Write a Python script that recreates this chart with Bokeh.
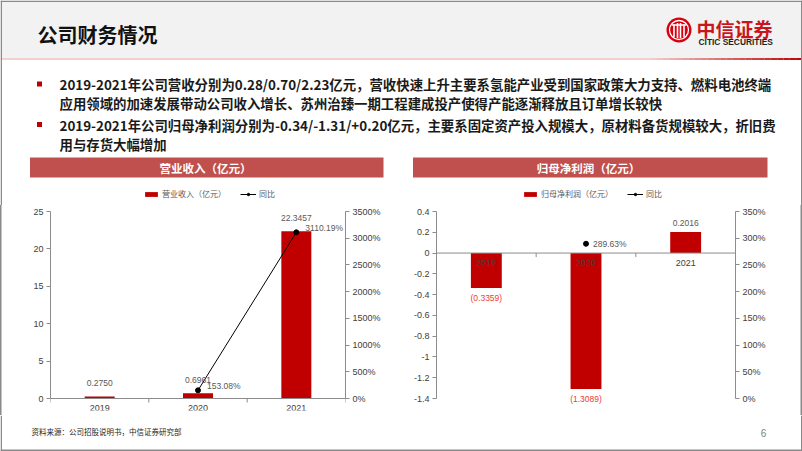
import numpy as np
from bokeh.plotting import figure
from bokeh.models import (Range1d, LinearAxis, FixedTicker,
                          PrintfTickFormatter, CustomJSTickFormatter, Legend, LegendItem,
                          ColumnDataSource, LabelSet, Span)
from bokeh.layouts import column, row
from bokeh.core.properties import value
from bokeh.embed import file_html
from bokeh.resources import INLINE

# ---------------- data ----------------
years = ["2019", "2020", "2021"]
revenue = [0.2750, 0.6961, 22.3457]                 # 营业收入（亿元）
revenue_yoy = [np.nan, 153.08, 3110.19]             # 同比 (%)
net_profit = [-0.3359, -1.3089, 0.2016]             # 归母净利润（亿元）
net_profit_yoy = [np.nan, 289.63, np.nan]           # 同比 (%)

rev_ticks = [0, 5, 10, 15, 20, 25]
rev_pct_ticks = [0, 500, 1000, 1500, 2000, 2500, 3000, 3500]
np_ticks = [-1.4, -1.2, -1.0, -0.8, -0.6, -0.4, -0.2, 0.0, 0.2, 0.4]
np_pct_ticks = [0, 50, 100, 150, 200, 250, 300, 350]

page_title = "公司财务情况"
bullet_lines = [
    "2019-2021年公司营收分别为0.28/0.70/2.23亿元，营收快速上升主要系氢能产业受到国家政策大力支持、燃料电池终端",
    "应用领域的加速发展带动公司收入增长、苏州治臻一期工程建成投产使得产能逐渐释放且订单增长较快",
    "2019-2021年公司归母净利润分别为-0.34/-1.31/+0.20亿元，主要系固定资产投入规模大，原材料备货规模较大，折旧费",
    "用与存货大幅增加",
]
chart_titles = ["营业收入（亿元）", "归母净利润（亿元）"]
yoy_label = "同比"
source_note = "资料来源：公司招股说明书，中信证券研究部"
page_no = "6"
brand_cn = "中信证券"
brand_en = "CITIC SECURITIES"

# category slots: each year occupies one unit, bars at the slot centres
slot_centres = [i + 0.5 for i in range(len(years))]
slot_edges = list(range(len(years) + 1))

# ---------------- style ----------------
CJK = "Noto Sans CJK SC"
LAT = "Liberation Sans"
BAR = "#c00000"
BAND = "#c0504d"
AX = "#8c8c8c"
TXT = "#404040"
GRAY = "#595959"
EDGE = "#8a8a8a"

AXIS_PX = 187      # height of the value axes
EXTRA_PX = 12      # free room below the axes for labels
TICK_PX = 4


def bare(width, height, x0, x1, y0, y1):
    p = figure(width=width, height=height, x_range=Range1d(x0, x1), y_range=Range1d(y1, y0),
               x_axis_location=None, y_axis_location=None, min_border=0,
               output_backend="svg", toolbar_location=None)
    p.outline_line_color = None
    p.grid.visible = False
    return p


# ---------------- top part (header, bullets, chart title bands, legends) ----------------
top = bare(802, 205, 0, 802, 0, 205)
top.quad(left=[0], right=[802], top=[0], bottom=[57.5], fill_color="#f2f2f2", line_color=None)
top.segment(x0=[0], y0=[58.5], x1=[802], y1=[58.5], line_color="#f4cfcf", line_width=2)
n = 24
xs = np.linspace(650, 802, n + 1)
c0 = np.array([0xf4, 0xcf, 0xcf]); c1 = np.array([0xc0, 0x00, 0x00])
cols = []
for i in range(n):
    t = (i + 0.5) / n
    c = (c0 + (c1 - c0) * t).astype(int)
    cols.append("#%02x%02x%02x" % tuple(c))
top.segment(x0=xs[:-1], y0=[58.5] * n, x1=xs[1:], y1=[58.5] * n, line_color=cols, line_width=2)
# slide frame
top.segment(x0=[0, 0.75, 801.25], y0=[0.75, 0, 0], x1=[802, 0.75, 801.25], y1=[0.75, 205, 205],
            line_color=EDGE, line_width=1.5)

top.text(x=[37], y=[33.5], text=[page_title], text_font=value(CJK), text_font_style="bold",
         text_font_size="20px", text_color="#111111", text_baseline="middle")

# logo
top.circle(x=[678.5], y=[29.5], radius=12.5, fill_color="#d7000f", line_color=None)
top.circle(x=[678.5], y=[29.5], radius=9.5, fill_color=None, line_color="white", line_width=1.3)
top.segment(x0=[673.5, 677, 680, 683.5], y0=[24, 22.5, 22.5, 24], x1=[673.5, 677, 680, 683.5],
            y1=[36.5, 37.5, 37.5, 36.5], line_color="white", line_width=1.6)
top.segment(x0=[671.5], y0=[24.5], x1=[685.5], y1=[24.5], line_color="white", line_width=1.3)
top.text(x=[696], y=[28], text=[brand_cn], text_font=value(CJK), text_font_style="bold",
         text_font_size="19px", text_color="#c8161d", text_baseline="middle")
top.text(x=[698], y=[41.5], text=[brand_en], text_font=value(LAT), text_font_style="bold",
         text_font_size="8.4px", text_color="#231f20", text_baseline="middle")

# bullets
line_y = [83.5, 102.5, 124, 143]
top.scatter(x=[39, 39], y=[line_y[0], line_y[2]], marker="square", size=5,
            fill_color=BAR, line_color=None)
top.text(x=[59] * 4, y=line_y, text=bullet_lines, text_font=value(CJK), text_font_style="bold",
         text_font_size="13.4px", text_color="#1a1a1a", text_baseline="middle")

# chart title bands
top.quad(left=[29.5, 412.5], right=[383, 767], top=[157, 157], bottom=[177, 177],
         fill_color=BAND, line_color=None)
top.text(x=[205, 588], y=[167.5, 167.5], text=chart_titles, text_font=value(CJK), text_font_style="bold",
         text_font_size="11.5px", text_color="white", text_baseline="middle", text_align="center")

# legend keys (same styles as the chart series; no data of their own)
kbar = top.vbar(x=[np.nan], top=[np.nan], width=1, fill_color=BAR, line_color=None)
kline = top.line(x=[np.nan], y=[np.nan], line_color="black", line_width=1)
kpt = top.scatter(x=[np.nan], y=[np.nan], size=5, fill_color="black", line_color="black")
for lab, xloc in ((chart_titles[0], 143), (chart_titles[1], 522)):
    leg = Legend(items=[LegendItem(label=lab, renderers=[kbar]),
                        LegendItem(label=yoy_label, renderers=[kline, kpt])],
                 orientation="horizontal", location=(xloc, 6), glyph_width=16, glyph_height=6,
                 label_height=8, label_text_font_size="8px", label_text_font=CJK,
                 label_text_color=GRAY, label_standoff=3, padding=0, margin=0, spacing=14,
                 border_line_color=None, background_fill_alpha=0, label_text_baseline="middle")
    top.add_layout(leg)


# ---------------- charts ----------------
def style_axis(ax):
    ax.axis_line_color = AX
    ax.major_tick_line_color = AX
    ax.major_tick_out = 4
    ax.major_tick_in = 0
    ax.minor_tick_line_color = None
    ax.major_label_text_font = LAT
    ax.major_label_text_font_size = "9px"
    ax.major_label_text_color = TXT
    ax.major_label_standoff = 3


def chart(ticks, pct_ticks, bl, br, shadow, left_fmt):
    lo, hi = ticks[0], ticks[-1]
    plo, phi = pct_ticks[0], pct_ticks[-1]
    pad = (hi - lo) * EXTRA_PX / AXIS_PX
    ppad = (phi - plo) * EXTRA_PX / AXIS_PX
    p = figure(width=401, height=210, x_range=Range1d(0, len(years)), y_range=Range1d(lo - pad, hi),
               x_axis_location=None, y_axis_location=None,
               min_border_left=bl, min_border_right=br, min_border_top=6,
               min_border_bottom=210 - 6 - AXIS_PX - EXTRA_PX,
               output_backend="svg", toolbar_location=None,
               styles={"box-shadow": shadow})
    p.outline_line_color = None
    p.border_fill_color = None
    p.grid.visible = False
    p.extra_y_ranges = {"pct": Range1d(plo - ppad, phi)}
    ax = LinearAxis(ticker=FixedTicker(ticks=ticks), bounds=(lo, hi))
    if left_fmt is not None:
        ax.formatter = left_fmt
    style_axis(ax); p.add_layout(ax, "left")
    ax = LinearAxis(y_range_name="pct", ticker=FixedTicker(ticks=pct_ticks), bounds=(plo, phi),
                    formatter=PrintfTickFormatter(format="%d%%"))
    style_axis(ax); p.add_layout(ax, "right")
    # category axis along value 0, ticks between categories
    unit = (hi - lo) / AXIS_PX
    p.add_layout(Span(location=0, dimension="width", line_color=AX, line_width=1))
    p.segment(x0=slot_edges, y0=[0] * len(slot_edges), x1=slot_edges,
              y1=[-TICK_PX * unit] * len(slot_edges), line_color=AX, line_width=1)
    return p


def add_series(p, vals, yoy, vl, vc, vo, bar_w, yoy_dx, yoy_dy):
    src = ColumnDataSource(dict(x=slot_centres, yr=years, v=vals, yoy=np.array(yoy, dtype=float),
                                vl=vl, vc=vc, vo=vo,
                                yl=["" if np.isnan(v) else f"{v:.2f}%" for v in yoy]))
    p.vbar(x="x", top="v", width=bar_w, fill_color=BAR, line_color=None, source=src)
    p.line(x="x", y="yoy", y_range_name="pct", line_color="black", line_width=1, source=src)
    p.scatter(x="x", y="yoy", y_range_name="pct", size=5, fill_color="black", line_color="black",
              source=src)
    p.add_layout(LabelSet(x="x", y=0, text="yr", source=src, y_offset=-9.5, text_align="center",
                          text_baseline="middle", text_font_size="9px", text_color=TXT,
                          text_font=value(LAT)))
    p.add_layout(LabelSet(x="x", y="v", text="vl", source=src, y_offset="vo", text_align="center",
                          text_baseline="middle", text_font_size="8.5px", text_color="vc",
                          text_font=value(LAT)))
    p.add_layout(LabelSet(x="x", y="yoy", y_range_name="pct", text="yl", source=src,
                          x_offset=yoy_dx, y_offset=yoy_dy, text_align="left",
                          text_baseline="middle", text_font_size="8.5px", text_color=GRAY,
                          text_font=value(LAT)))


# left chart: revenue
L = chart(rev_ticks, rev_pct_ticks, 50, 56, f"inset 1.5px 0 0 {EDGE}", None)
add_series(L, revenue, revenue_yoy,
           [f"{v:.4f}" for v in revenue], [GRAY] * len(revenue), [13.5] * len(revenue),
           0.305, 9, 4)

# right chart: net profit
R = chart(np_ticks, np_pct_ticks, 35, 67, f"inset -1.5px 0 0 {EDGE}",
          CustomJSTickFormatter(code="return (Math.round(tick*10)/10).toString();"))
add_series(R, net_profit, net_profit_yoy,
           [f"({abs(v):.4f})" if v < 0 else f"{v:.4f}" for v in net_profit],
           ["#ee3a3a" if v < 0 else GRAY for v in net_profit],
           [-10 if v < 0 else 9 for v in net_profit],
           0.31, 7, 0)

# ---------------- footer ----------------
F = bare(802, 36, 0, 802, 415, 451)
F.segment(x0=[0.75, 801.25, 0], y0=[415, 415, 449.75], x1=[0.75, 801.25, 802], y1=[451, 451, 449.75],
          line_color=EDGE, line_width=1.5)
F.text(x=[31], y=[431], text=[source_note], text_font=value(CJK), text_font_size="7.5px",
       text_color="#262626", text_baseline="middle")
F.text(x=[763], y=[432], text=[page_no], text_font=value(LAT), text_font_size="10px",
       text_color="#7f7f7f", text_baseline="middle", text_align="center")

layout = column(top, row(L, R, spacing=0), F, spacing=0)
open("out.html", "w").write(file_html(layout, INLINE, title="公司财务情况"))
